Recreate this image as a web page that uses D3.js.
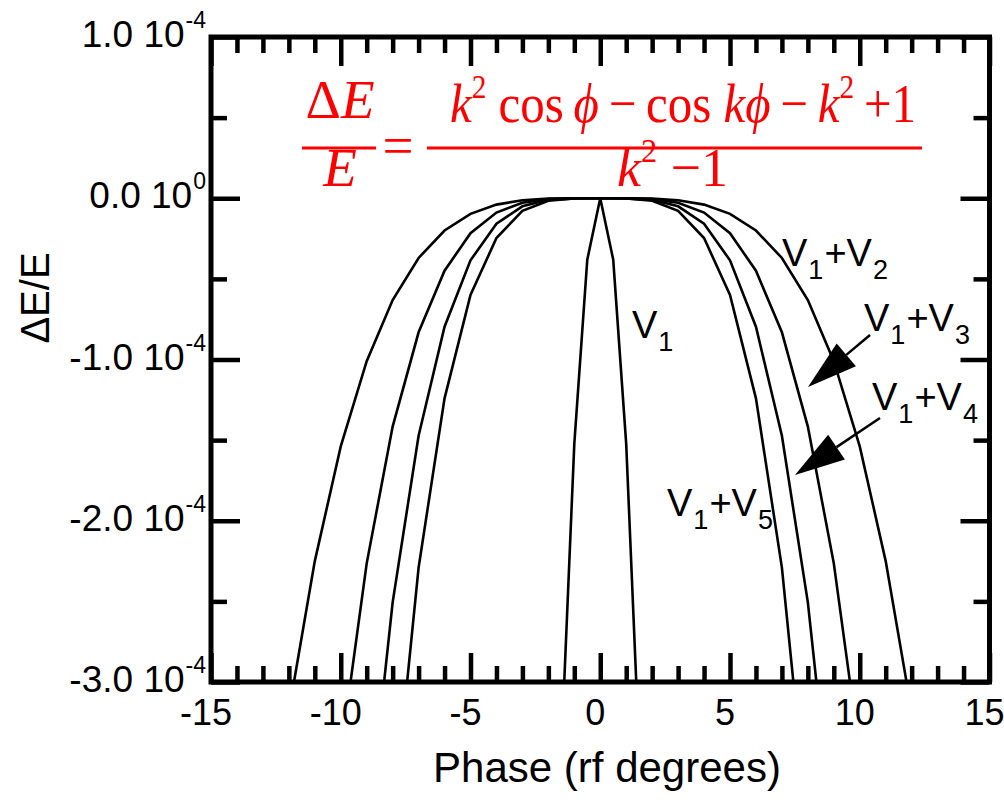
<!DOCTYPE html>
<html>
<head>
<meta charset="utf-8">
<script src="https://cdn.jsdelivr.net/npm/d3@7"></script>
<style>
  body { margin: 0; background: #fff; }
  svg { display: block; }
  .tick line { stroke: #000; }
</style>
</head>
<body>
<svg id="chart" width="1004" height="800"></svg>
<script>
// Energy spread dE/E (in units of 1e-4) against phase (rf degrees)
var phaseV1 = [-1.5, -1, -0.5, 0, 0.5, 1, 1.5];
var dEV1 = [-3.427, -1.523, -0.381, 0, -0.381, -1.523, -3.427];

var phaseV1V2 = [-12, -11, -10, -9, -8, -7, -6, -5, -4, -3, -2, -1, 0, 1, 2, 3, 4, 5, 6, 7, 8, 9, 10, 11, 12];
var dEV1V2 = [-3.1833, -2.2503, -1.5386, -1.0105, -0.6314, -0.3704, -0.2001, -0.0965, -0.0396, -0.0125, -0.0025, -0.0002, 0,
              -0.0002, -0.0025, -0.0125, -0.0396, -0.0965, -0.2001, -0.3704, -0.6314, -1.0105, -1.5386, -2.2503, -3.1833];

var phaseV1V3 = [-10, -9, -8, -7, -6, -5, -4, -3, -2, -1, 0, 1, 2, 3, 4, 5, 6, 7, 8, 9, 10];
var dEV1V3 = [-3.4442, -2.2641, -1.4159, -0.8313, -0.4493, -0.2169, -0.0889, -0.0282, -0.0056, -0.0003, 0,
              -0.0003, -0.0056, -0.0282, -0.0889, -0.2169, -0.4493, -0.8313, -1.4159, -2.2641, -3.4442];

var phaseV1V4 = [-9, -8, -7, -6, -5, -4, -3, -2, -1, 0, 1, 2, 3, 4, 5, 6, 7, 8, 9];
var dEV1V4 = [-4.0022, -2.5059, -1.4726, -0.7967, -0.3849, -0.1579, -0.0500, -0.0099, -0.0006, 0,
              -0.0006, -0.0099, -0.0500, -0.1579, -0.3849, -0.7967, -1.4726, -2.5059, -4.0022];

var phaseV1V5 = [-8, -7, -6, -5, -4, -3, -2, -1, 0, 1, 2, 3, 4, 5, 6, 7, 8];
var dEV1V5 = [-3.8926, -2.2908, -1.2407, -0.6001, -0.2464, -0.0781, -0.0154, -0.0010, 0,
              -0.0010, -0.0154, -0.0781, -0.2464, -0.6001, -1.2407, -2.2908, -3.8926];

// Axis ticks
var xMajor = [-15, -10, -5, 0, 5, 10, 15];
var xMinor = d3.range(-14, 15).filter(function(v) { return v % 5 != 0; });
var yMajor = [1, 0, -1, -2, -3];
var yMinor = [0.5, -0.5, -1.5, -2.5];
var yLabels = ['1.0', '0.0', '-1.0', '-2.0', '-3.0'];
var yExps = ['-4', '0', '-4', '-4', '-4'];

var svg = d3.select('#chart');
var plotLeft = 211, plotRight = 989.5, plotTop = 37, plotBottom = 682;

var x = d3.scaleLinear().domain([-15, 15]).range([plotLeft, plotRight]);
var y = d3.scaleLinear().domain([-3, 1]).range([plotBottom, plotTop]);

svg.append('clipPath').attr('id', 'plotclip')
  .append('rect')
  .attr('x', plotLeft).attr('y', plotTop)
  .attr('width', plotRight - plotLeft).attr('height', plotBottom - plotTop);

// Ticks, all pointing inward
function tickGroup(axis, tx, ty) {
  var g = svg.append('g').attr('transform', 'translate(' + tx + ',' + ty + ')').call(axis);
  g.select('.domain').remove();
  g.selectAll('text').remove();
  g.selectAll('line').attr('stroke-width', 4.5);
  return g;
}
tickGroup(d3.axisBottom(x).tickValues(xMinor).tickSize(-16), 0, plotBottom);
tickGroup(d3.axisBottom(x).tickValues(xMajor).tickSize(-29), 0, plotBottom);
tickGroup(d3.axisTop(x).tickValues(xMinor).tickSize(-16), 0, plotTop);
tickGroup(d3.axisTop(x).tickValues(xMajor).tickSize(-29), 0, plotTop);
tickGroup(d3.axisLeft(y).tickValues(yMinor).tickSize(-16), plotLeft, 0);
tickGroup(d3.axisLeft(y).tickValues(yMajor).tickSize(-29), plotLeft, 0);
tickGroup(d3.axisRight(y).tickValues(yMinor).tickSize(-16), plotRight, 0);
tickGroup(d3.axisRight(y).tickValues(yMajor).tickSize(-29), plotRight, 0);

// Curves
var line = d3.line()
  .x(function(d) { return x(d[0]); })
  .y(function(d) { return y(d[1]); });

var series = [
  [phaseV1, dEV1],
  [phaseV1V2, dEV1V2],
  [phaseV1V3, dEV1V3],
  [phaseV1V4, dEV1V4],
  [phaseV1V5, dEV1V5]
];
var curves = svg.append('g').attr('clip-path', 'url(#plotclip)');
series.forEach(function(s) {
  curves.append('path')
    .datum(d3.zip(s[0], s[1]))
    .attr('d', line)
    .attr('fill', 'none')
    .attr('stroke', '#000')
    .attr('stroke-width', 2.6);
});

// Frame
svg.append('rect')
  .attr('x', plotLeft).attr('y', plotTop)
  .attr('width', plotRight - plotLeft).attr('height', plotBottom - plotTop)
  .attr('fill', 'none').attr('stroke', '#000').attr('stroke-width', 5);

// X tick labels
svg.append('g').selectAll('text')
  .data(xMajor)
  .enter().append('text')
  .attr('x', function(d) { return x(d) - 5; })
  .attr('y', 725)
  .attr('text-anchor', 'middle')
  .attr('font-family', 'Liberation Sans, Arial, sans-serif')
  .attr('font-size', 36)
  .text(function(d) { return d; });

// Y tick labels like "1.0 10^-4"
var yl = svg.append('g').selectAll('text')
  .data(yMajor)
  .enter().append('text')
  .attr('x', 206)
  .attr('y', function(d) { return y(d) + 10; })
  .attr('text-anchor', 'end')
  .attr('font-family', 'Liberation Sans, Arial, sans-serif')
  .attr('font-size', 37);
yl.append('tspan').text(function(d, i) { return yLabels[i] + ' 10'; });
yl.append('tspan').attr('font-size', 23).attr('dy', -19).attr('dx', 1).text(function(d, i) { return yExps[i]; });

// Axis titles
svg.append('text')
  .attr('x', 607).attr('y', 782)
  .attr('text-anchor', 'middle')
  .attr('font-family', 'Liberation Sans, Arial, sans-serif')
  .attr('font-size', 42)
  .text('Phase (rf degrees)');

svg.append('text')
  .attr('transform', 'translate(49,298) rotate(-90)')
  .attr('text-anchor', 'middle')
  .attr('font-family', 'Liberation Sans, Arial, sans-serif')
  .attr('font-size', 40)
  .text('\u0394E/E');

// Curve labels with subscripts
function vLabel(tx, ty, parts) {
  var t = svg.append('text')
    .attr('x', tx).attr('y', ty)
    .attr('font-family', 'Liberation Sans, Arial, sans-serif')
    .attr('font-size', 38);
  parts.forEach(function(p, i) {
    var big = i % 2 == 0;
    t.append('tspan')
      .attr('font-size', big ? 38 : 27)
      .attr('dy', i == 0 ? 0 : (big ? -13 : 13))
      .attr('dx', i == 0 ? 0 : 1)
      .text(p);
  });
}
vLabel(632, 338, ['V', '1']);
vLabel(782, 266, ['V', '1', '+V', '2']);
vLabel(864, 331, ['V', '1', '+V', '3']);
vLabel(872, 410, ['V', '1', '+V', '4']);
vLabel(667, 516, ['V', '1', '+V', '5']);

// Arrows
function arrow(x1, y1, x2, y2) {
  var ang = Math.atan2(y2 - y1, x2 - x1);
  var len = 50, half = 15;
  var bx = x2 - len * Math.cos(ang), by = y2 - len * Math.sin(ang);
  svg.append('line')
    .attr('x1', x1).attr('y1', y1).attr('x2', bx).attr('y2', by)
    .attr('stroke', '#000').attr('stroke-width', 2.5);
  svg.append('path')
    .attr('d', 'M' + x2 + ',' + y2 +
      'L' + (bx + half * Math.sin(ang)) + ',' + (by - half * Math.cos(ang)) +
      'L' + (bx - half * Math.sin(ang)) + ',' + (by + half * Math.cos(ang)) + 'Z')
    .attr('fill', '#000');
}
arrow(870, 335, 808, 387);
arrow(880, 418, 795, 475);

// Formula in red
var red = '#ff0000';
var serif = 'Liberation Serif, Times New Roman, serif';
var f = svg.append('g').attr('fill', red).attr('font-family', serif).attr('font-size', 55);

var lhsTop = f.append('text').attr('x', 340).attr('y', 118).attr('text-anchor', 'middle');
lhsTop.append('tspan').text('\u0394');
lhsTop.append('tspan').attr('font-style', 'italic').text('E');
f.append('text').attr('x', 340).attr('y', 186).attr('text-anchor', 'middle')
  .attr('font-style', 'italic').text('E');
f.append('line').attr('x1', 302).attr('x2', 376).attr('y1', 148).attr('y2', 148)
  .attr('stroke', red).attr('stroke-width', 3);
f.append('text').attr('x', 398).attr('y', 164).attr('text-anchor', 'middle').text('=');

function mathText(tx, ty, width, parts) {
  var t = f.append('text').attr('x', tx).attr('y', ty)
    .attr('textLength', width).attr('lengthAdjust', 'spacingAndGlyphs');
  var raised = false;
  parts.forEach(function(p) {
    var s = t.append('tspan').text(p[0]);
    if (p[1] == 'i') s.attr('font-style', 'italic');
    if (p[1] == 's') { s.attr('font-size', 33).attr('dy', -24); raised = true; }
    else if (raised) { s.attr('dy', 24); raised = false; }
  });
  return t;
}
mathText(450, 122, 466, [['k', 'i'], ['2', 's'], [' cos\u2009', ''], ['\u03d5', 'i'], ['\u2009\u2212\u2009cos ', ''], ['k\u03d5', 'i'],
  ['\u2009\u2212\u2009', ''], ['k', 'i'], ['2', 's'], ['\u2009+1', '']]);
mathText(617, 186, 111, [['k', 'i'], ['2', 's'], [' \u22121', '']]);
f.append('line').attr('x1', 427).attr('x2', 922).attr('y1', 148).attr('y2', 148)
  .attr('stroke', red).attr('stroke-width', 3);
</script>
</body>
</html>
